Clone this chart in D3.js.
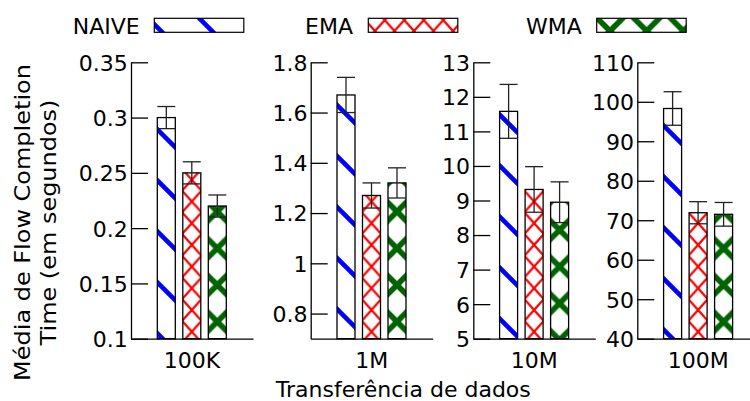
<!DOCTYPE html>
<html>
<head>
<meta charset="utf-8">
<script src="https://cdn.jsdelivr.net/npm/d3@7"></script>
<style>
  body { margin: 0; background: #fff; }
  text { font-family: "DejaVu Sans", sans-serif; }
</style>
</head>
<body>
<svg id="chart" width="750" height="401"></svg>
<script>
// ---- data ----
const categories = ["100K", "1M", "10M", "100M"];
const seriesNames = ["NAIVE", "EMA", "WMA"];
const naive = [0.30, 1.67, 11.58, 98.3];
const ema = [0.25, 1.27, 9.32, 71.9];
const wma = [0.22, 1.32, 8.95, 71.5];
const naiveErr = [0.01, 0.07, 0.78, 4.25];
const emaErr = [0.01, 0.05, 0.66, 2.8];
const wmaErr = [0.01, 0.06, 0.59, 3.0];
const yDomains = [[0.1, 0.35], [0.7, 1.8], [5, 13], [40, 110]];
const yTicks = [
  [0.1, 0.15, 0.2, 0.25, 0.3, 0.35],
  [0.8, 1, 1.2, 1.4, 1.6, 1.8],
  [5, 6, 7, 8, 9, 10, 11, 12, 13],
  [40, 50, 60, 70, 80, 90, 100, 110]
];
const yTitle = ["Média de Flow Completion", "Time (em segundos)"];
const xTitle = "Transferência de dados";

// ---- layout ----
const panelLeft = [131, 310.7, 473.3, 637.3];
const panelW = 122;
const plotTop = 62.3, plotBottom = 338.7;
const FS = 22;

const values = [naive, ema, wma];
const errors = [naiveErr, emaErr, wmaErr];

const svg = d3.select("#chart");
const defs = svg.append("defs");

// X-shaped lattice lines for a w x h tile (crossings at corners and centre)
function crossPath(w, h) {
  return `M${-w},${-h}L${2*w},${2*h}` +
         `M${-w},0L${w},${2*h}` +
         `M0,${-h}L${2*w},${h}` +
         `M${-w},${h}L${w},${-h}` +
         `M${-w},${2*h}L${w},0` +
         `M0,${2*h}L${2*w},0`;
}

// NAIVE: wide blue back-diagonal stripes, anchored to the page
(function () {
  const P = 51;
  const p = defs.append("pattern")
    .attr("id", "pat-naive")
    .attr("patternUnits", "userSpaceOnUse")
    .attr("width", P).attr("height", P)
    .attr("patternTransform", "translate(0,23)");
  p.append("rect").attr("width", P).attr("height", P).attr("fill", "#fff");
  p.append("path")
    .attr("d", `M${-P},0L${P},${2*P}M-2,-2L${P+2},${P+2}M0,${-P}L${2*P},${P}`)
    .attr("stroke", "#0000ff").attr("stroke-width", 4.6).attr("fill", "none");
})();

const crossStyles = {
  EMA: { w: 19.5, h: 21.7, color: "#ff0000", width: 2.2, y0: 331.7 },
  WMA: { w: 36.7, h: 36.7, color: "#006400", width: 5.6, y0: 321.7 }
};

function makeCross(id, style, cx, cy) {
  const p = defs.append("pattern")
    .attr("id", id)
    .attr("patternUnits", "userSpaceOnUse")
    .attr("width", style.w).attr("height", style.h)
    .attr("patternTransform", `translate(${cx},${cy})`);
  p.append("rect").attr("width", style.w).attr("height", style.h).attr("fill", "#fff");
  p.append("path").attr("d", crossPath(style.w, style.h))
    .attr("stroke", style.color).attr("stroke-width", style.width).attr("fill", "none");
  return `url(#${id})`;
}

// band scale placing the three bars inside each panel (panel-relative)
const xs = d3.scaleBand().domain(seriesNames).range([26.3, 95.3]).paddingInner(0.294).paddingOuter(0);

const marks = svg.append("g");   // bars drawn in page coordinates
const axes = svg.append("g");

categories.forEach((cat, j) => {
  const y = d3.scaleLinear().domain(yDomains[j]).range([plotBottom, plotTop]);
  const x0 = panelLeft[j];

  // bars
  seriesNames.forEach((s, i) => {
    const v = values[i][j];
    const bx = x0 + xs(s), bw = xs.bandwidth();
    const cx = bx + bw / 2;
    let fill;
    if (s === "NAIVE") fill = "url(#pat-naive)";
    else {
      const st = crossStyles[s];
      let y0 = st.y0;
      if (s === "WMA" && j === 2) y0 += st.h / 2;
      fill = makeCross(`pat-${s}-${j}`, st, cx, y0);
    }
    marks.append("rect")
      .attr("x", bx).attr("y", y(v))
      .attr("width", bw).attr("height", plotBottom - y(v))
      .attr("fill", fill)
      .attr("stroke", "#000").attr("stroke-width", 1.3);
  });

  // error bars
  seriesNames.forEach((s, i) => {
    const v = values[i][j], e = errors[i][j];
    const bx = x0 + xs(s), bw = xs.bandwidth(), cx = bx + bw / 2;
    const eb = marks.append("g").attr("stroke", "#222").attr("stroke-width", 1.3);
    eb.append("line").attr("x1", cx).attr("x2", cx).attr("y1", y(v + e)).attr("y2", y(v - e));
    eb.append("line").attr("x1", bx).attr("x2", bx + bw).attr("y1", y(v + e)).attr("y2", y(v + e));
    eb.append("line").attr("x1", bx).attr("x2", bx + bw).attr("y1", y(v - e)).attr("y2", y(v - e));
  });

  const g = axes.append("g").attr("transform", `translate(${x0},0)`);

  // y axis: ticks point inward, labels on the left
  const ya = g.append("g")
    .call(d3.axisLeft(y).tickValues(yTicks[j]).tickFormat(d3.format("~g"))
      .tickSizeInner(-17).tickSizeOuter(0).tickPadding(3.3));
  ya.selectAll("path, line").attr("stroke", "#000").attr("stroke-width", 1.3);
  ya.selectAll("text").attr("font-size", FS).attr("fill", "#000")
    .attr("font-family", "DejaVu Sans").attr("dy", "0.36em");

  // x axis with category label
  const xc = d3.scaleBand().domain([cat]).range([0, panelW]);
  const xa = g.append("g").attr("transform", `translate(0,${plotBottom})`)
    .call(d3.axisBottom(xc).tickSize(0).tickSizeOuter(0).tickPadding(13.4));
  xa.selectAll("path").attr("stroke", "#000").attr("stroke-width", 1.3);
  xa.selectAll("text").attr("font-size", FS).attr("fill", "#000").attr("font-family", "DejaVu Sans");
});

// legend
const legendTextX = [72.7, 305, 526];
const legendBoxX = [154.3, 368.3, 596.7];
seriesNames.forEach((s, i) => {
  svg.append("text").attr("x", legendTextX[i]).attr("y", 34.3)
    .attr("font-size", FS).attr("fill", "#000").text(s);
  let fill;
  if (s === "NAIVE") fill = "url(#pat-naive)";
  else if (s === "EMA") fill = makeCross("pat-leg-EMA", crossStyles.EMA, 375, 31);
  else fill = makeCross("pat-leg-WMA", crossStyles.WMA, 610, 31);
  svg.append("rect").attr("x", legendBoxX[i]).attr("y", 18.3)
    .attr("width", 89.5).attr("height", 14)
    .attr("fill", fill).attr("stroke", "#000").attr("stroke-width", 1.2);
});

// axis titles (the vertical title is drawn slightly stretched along its length)
yTitle.forEach((line, k) => {
  svg.append("text")
    .attr("transform", `translate(${k === 0 ? 29.5 : 56},222.5) rotate(-90) scale(1.09,1)`)
    .attr("text-anchor", "middle").attr("font-size", FS).attr("fill", "#000")
    .text(line);
});
svg.append("text").attr("x", 403.3).attr("y", 396.5)
  .attr("text-anchor", "middle").attr("font-size", FS).attr("fill", "#000")
  .text(xTitle);
</script>
</body>
</html>
